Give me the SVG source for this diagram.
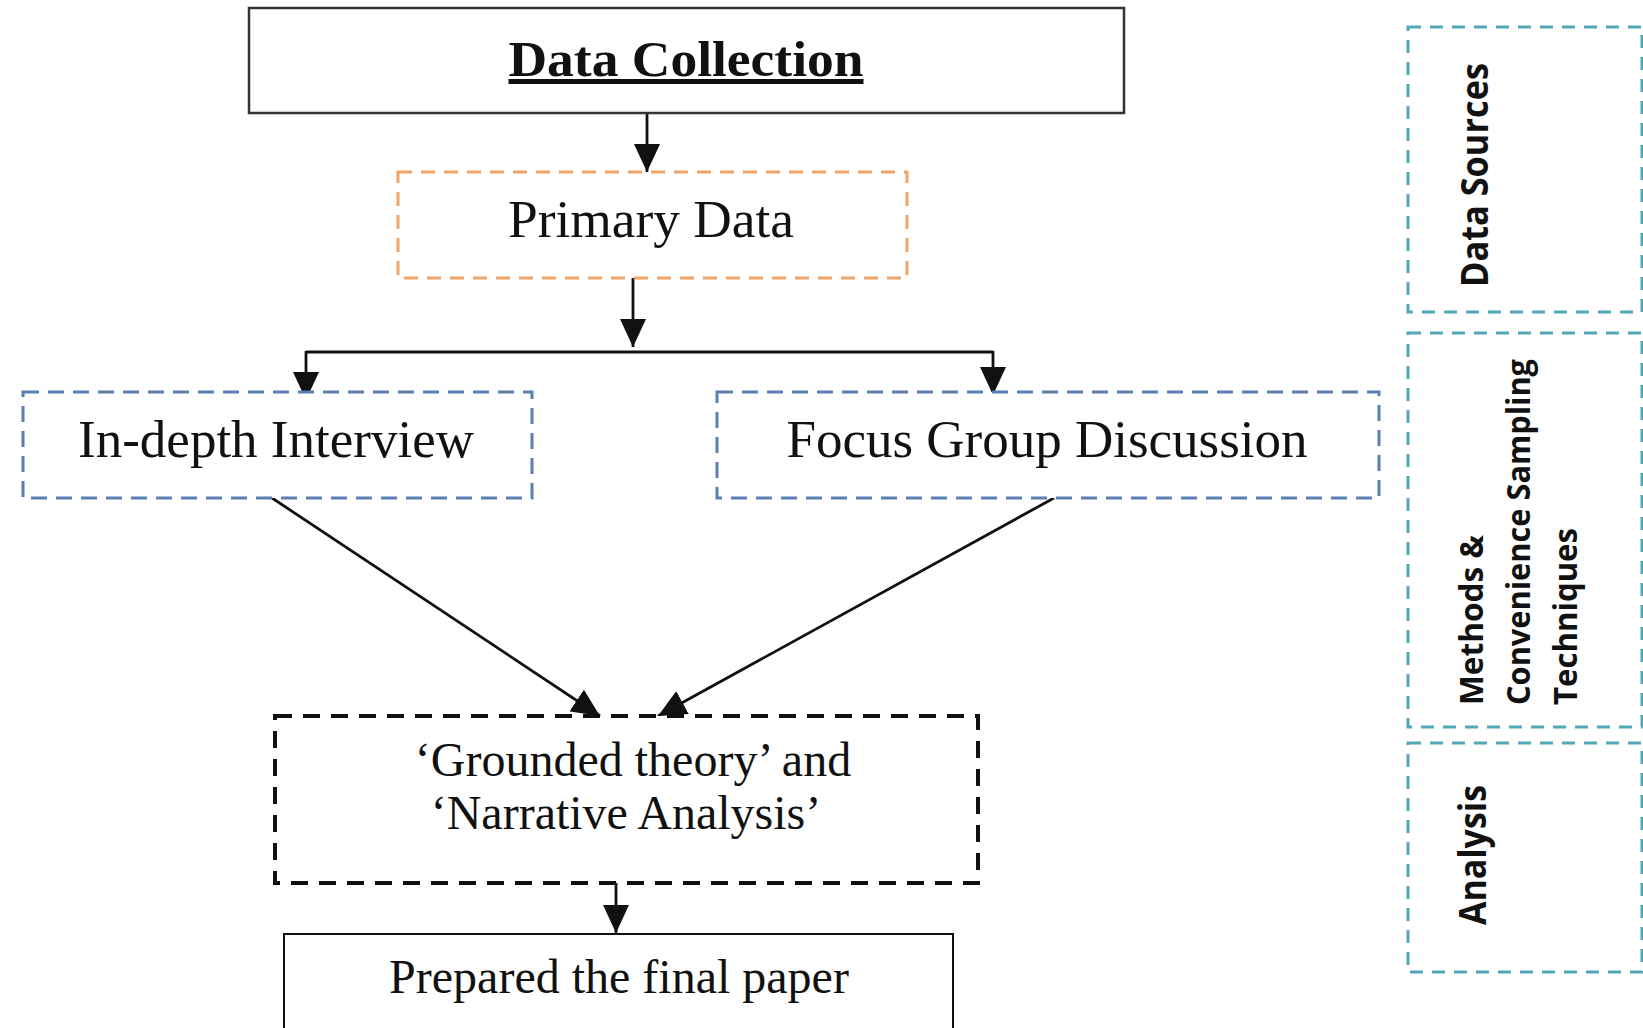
<svg xmlns="http://www.w3.org/2000/svg" width="1643" height="1028" viewBox="0 0 1643 1028">
<style>
.serif{font-family:"Liberation Serif","Times New Roman",serif;fill:#111;}
.sans{font-family:"Open Sans","Liberation Sans",sans-serif;font-weight:700;fill:#111;}
.conn{stroke:#111;stroke-width:2.8;fill:none;}
.blue{fill:#fff;stroke:#5b7fb0;stroke-width:3;stroke-dasharray:16 9;}
.orange{fill:#fff;stroke:#f0a468;stroke-width:3;stroke-dasharray:14 9;}
.black{fill:#fff;stroke:#111;stroke-width:4;stroke-dasharray:17 11;}
.teal{fill:none;stroke:#52a8b6;stroke-width:3;stroke-dasharray:13 9;}
</style>
<defs>
<marker id="arr" markerUnits="userSpaceOnUse" markerWidth="28" markerHeight="26" refX="28" refY="13" orient="auto">
<path d="M0,0 L28,13 L0,26 z" fill="#111"/>
</marker>
</defs>
<rect width="1643" height="1028" fill="#fff"/>

<g id="connectors">
<line class="conn" x1="647" y1="113" x2="647" y2="172" marker-end="url(#arr)"/>
<line class="conn" x1="633" y1="278" x2="633" y2="347" marker-end="url(#arr)"/>
<line class="conn" x1="306" y1="352" x2="993" y2="352"/>
<line class="conn" x1="306" y1="351" x2="306" y2="400" marker-end="url(#arr)"/>
<line class="conn" x1="993" y1="351" x2="993" y2="395" marker-end="url(#arr)"/>
<line class="conn" x1="272" y1="498" x2="600" y2="716" marker-end="url(#arr)"/>
<line class="conn" x1="1054" y1="498" x2="658" y2="716" marker-end="url(#arr)"/>
<line class="conn" x1="616" y1="883" x2="616" y2="933" marker-end="url(#arr)"/>
</g>

<g id="data-collection">
<rect x="249" y="8" width="875" height="105" fill="none" stroke="#333" stroke-width="2.5"/>
<text class="serif" x="686" y="76" font-size="50" font-weight="700" text-anchor="middle" text-decoration="underline" textLength="355" lengthAdjust="spacingAndGlyphs">Data Collection</text>
</g>

<g id="primary-data">
<rect class="orange" x="398" y="172" width="509" height="106"/>
<text class="serif" x="651" y="237" font-size="52" text-anchor="middle" textLength="286" lengthAdjust="spacingAndGlyphs">Primary Data</text>
</g>

<g id="in-depth-interview">
<rect class="blue" x="23" y="392" width="509" height="106"/>
<text class="serif" x="276" y="457" font-size="53" text-anchor="middle">In-depth Interview</text>
</g>

<g id="focus-group">
<rect class="blue" x="717" y="392" width="662" height="106"/>
<text class="serif" x="1047" y="457" font-size="53" text-anchor="middle">Focus Group Discussion</text>
</g>

<g id="grounded">
<rect class="black" x="275" y="716" width="703" height="167"/>
<text class="serif" x="633" y="776" font-size="48" text-anchor="middle">‘Grounded theory’ and</text>
<text class="serif" x="626" y="829" font-size="48" text-anchor="middle">‘Narrative Analysis’</text>
</g>

<g id="final-paper">
<rect x="284" y="934" width="669" height="120" fill="#fff" stroke="#111" stroke-width="2"/>
<text class="serif" x="619" y="993" font-size="48" text-anchor="middle">Prepared the final paper</text>
</g>

<g id="data-sources">
<rect class="teal" x="1408" y="27" width="234" height="285"/>
<text class="sans" transform="translate(1488,175) rotate(-90)" x="0" y="0" font-size="37" text-anchor="middle" textLength="224" lengthAdjust="spacingAndGlyphs">Data Sources</text>
</g>

<g id="methods">
<rect class="teal" x="1408" y="333" width="234" height="394"/>
<g transform="translate(1483,705) rotate(-90)">
<text class="sans" x="0" y="0" font-size="33" textLength="170" lengthAdjust="spacingAndGlyphs">Methods &amp;</text>
<text class="sans" x="0" y="47" font-size="33" textLength="346" lengthAdjust="spacingAndGlyphs">Convenience Sampling</text>
<text class="sans" x="0" y="94" font-size="33" textLength="177" lengthAdjust="spacingAndGlyphs">Techniques</text>
</g>
</g>

<g id="analysis">
<rect class="teal" x="1408" y="743" width="234" height="229"/>
<text class="sans" transform="translate(1486,855) rotate(-90)" x="0" y="0" font-size="37" text-anchor="middle" textLength="140" lengthAdjust="spacingAndGlyphs">Analysis</text>
</g>
</svg>
